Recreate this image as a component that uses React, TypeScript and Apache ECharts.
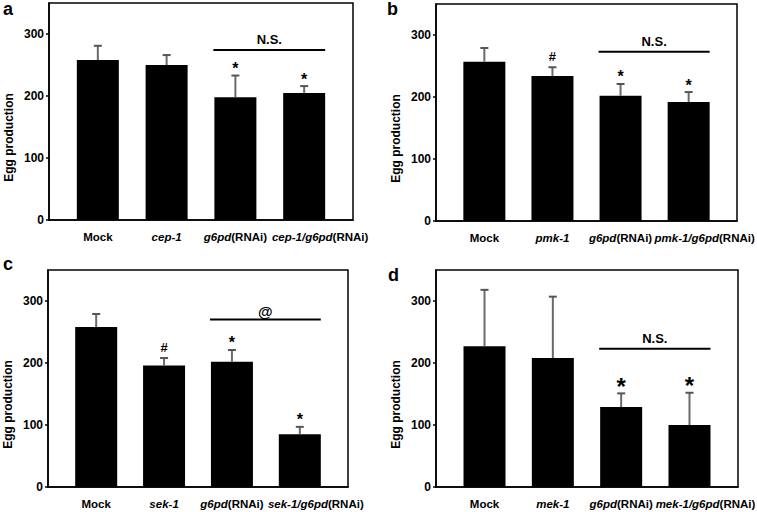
import React, { useEffect, useRef } from 'react';
import * as echarts from 'echarts';

// ---------- data ----------
const yTickValues = [0, 100, 200, 300];
const yAxisMax = 350;
const yAxisTitle = 'Egg production';

const panelLetters = ['a', 'b', 'c', 'd'];

const categoriesA = ['Mock', 'cep-1', 'g6pd(RNAi)', 'cep-1/g6pd(RNAi)'];
const meansA = [258, 250, 198, 205];
const errorsA = [23, 16, 35, 11];
const marksA = ['', '', '*', '*'];
const sigTextA = 'N.S.';
const sigLevelA = 274;

const categoriesB = ['Mock', 'pmk-1', 'g6pd(RNAi)', 'pmk-1/g6pd(RNAi)'];
const meansB = [257, 234, 202, 192];
const errorsB = [22, 14, 19, 16];
const marksB = ['', '#', '*', '*'];
const sigTextB = 'N.S.';
const sigLevelB = 273;

const categoriesC = ['Mock', 'sek-1', 'g6pd(RNAi)', 'sek-1/g6pd(RNAi)'];
const meansC = [258, 196, 202, 85];
const errorsC = [21, 12, 19, 12];
const marksC = ['', '#', '*', '*'];
const sigTextC = '@';
const sigLevelC = 270;

const categoriesD = ['Mock', 'mek-1', 'g6pd(RNAi)', 'mek-1/g6pd(RNAi)'];
const meansD = [227, 208, 129, 100];
const errorsD = [91, 99, 22, 52];
const marksD = ['', '', '*', '*'];
const sigTextD = 'N.S.';
const sigLevelD = 223;

// ---------- layout / style ----------
const FONT = '"Liberation Sans", Arial, Helvetica, sans-serif';
const BAR_W = 42;
const CAT_FS = 11.5;

const panels = [
  { cats: categoriesA, means: meansA, errs: errorsA, marks: marksA, sigText: sigTextA, sigLevel: sigLevelA,
    grid: { left: 49, top: 3, width: 304, height: 217 }, letter: { left: 3, top: 0 }, markSize: 16, markGap: 11, sigGap: 4, sigSize: 13 },
  { cats: categoriesB, means: meansB, errs: errorsB, marks: marksB, sigText: sigTextB, sigLevel: sigLevelB,
    grid: { left: 436, top: 4, width: 301, height: 217 }, letter: { left: 387, top: 0 }, markSize: 16, markGap: 11, sigGap: 4, sigSize: 13 },
  { cats: categoriesC, means: meansC, errs: errorsC, marks: marksC, sigText: sigTextC, sigLevel: sigLevelC,
    grid: { left: 48, top: 270, width: 300, height: 217 }, letter: { left: 3, top: 255 }, markSize: 16, markGap: 11, sigGap: 1, sigSize: 15 },
  { cats: categoriesD, means: meansD, errs: errorsD, marks: marksD, sigText: sigTextD, sigLevel: sigLevelD,
    grid: { left: 436, top: 270, width: 302, height: 217 }, letter: { left: 388, top: 266 }, markSize: 24, markGap: 13, sigGap: 4, sigSize: 13 },
];

function richLabel(s: string): string {
  if (s === 'Mock') return '{n|Mock}';
  const m = s.match(/^(.*?)(\(RNAi\))$/);
  if (m) return `{i|${m[1]}}{n|${m[2]}}`;
  return `{i|${s}}`;
}

function buildOption() {
  const grids: any[] = [];
  const xAxes: any[] = [];
  const yAxes: any[] = [];
  const series: any[] = [];
  const titles: any[] = [];

  const labelBase = { fontWeight: 'bold', fontSize: 12, fontFamily: FONT, color: '#000' };
  const richStyles = {
    i: { fontWeight: 'bold', fontSize: CAT_FS, fontFamily: FONT, fill: '#000', fontStyle: 'italic' },
    n: { fontWeight: 'bold', fontSize: CAT_FS, fontFamily: FONT, fill: '#000', fontStyle: 'normal' },
  };

  panels.forEach((p, k) => {
    grids.push({
      ...p.grid,
      show: true,
      borderColor: '#000',
      borderWidth: 1.5,
      backgroundColor: 'transparent',
      containLabel: false,
    });
    titles.push({
      text: panelLetters[k],
      left: p.letter.left,
      top: p.letter.top,
      padding: 0,
      textStyle: { fontSize: 18, fontWeight: 'bold', color: '#000', fontFamily: FONT },
    });
    xAxes.push({
      type: 'value',
      gridIndex: k,
      min: -0.71,
      max: 3.71,
      axisLine: { show: true, onZero: false, lineStyle: { color: '#000', width: 1.5 } },
      axisTick: { show: false },
      axisLabel: { show: false },
      splitLine: { show: false },
    });
    yAxes.push({
      type: 'value',
      gridIndex: k,
      min: 0,
      max: yAxisMax,
      axisLine: { show: true, onZero: false, lineStyle: { color: '#000', width: 1.5 } },
      axisTick: { show: true, inside: false, length: 3, customValues: yTickValues, lineStyle: { color: '#000', width: 1.5 } },
      splitLine: { show: false },
      axisLabel: {
        customValues: yTickValues,
        ...labelBase,
        margin: 5,
      },
      name: yAxisTitle,
      nameLocation: 'middle',
      nameRotate: 90,
      nameGap: 34,
      nameTextStyle: { ...labelBase, padding: [0, 52, 0, 0] },
    });

    // bars
    series.push({
      type: 'bar',
      xAxisIndex: k,
      yAxisIndex: k,
      barWidth: BAR_W,
      data: p.means.map((v, i) => [i, v]),
      itemStyle: { color: '#000' },
      z: 2,
    });
    // category labels under the x axis
    series.push({
      type: 'custom',
      xAxisIndex: k,
      yAxisIndex: k,
      z: 4,
      clip: false,
      silent: true,
      encode: { x: 0, y: 1 },
      data: p.cats.map((c, i) => [i, 0]),
      renderItem: (params: any, api: any) => {
        const idx = params.dataIndex;
        const pt = api.coord([api.value(0), api.value(1)]);
        const last = idx === p.cats.length - 1;
        return {
          type: 'text',
          x: pt[0] + (last ? 16 : 0),
          y: pt[1] + 11,
          style: {
            text: richLabel(p.cats[idx]),
            rich: richStyles,
            fontWeight: 'bold',
            fontSize: CAT_FS,
            fontFamily: FONT,
            fill: '#000',
            align: 'center',
            verticalAlign: 'top',
          },
        };
      },
    });
    // error bars
    series.push({
      type: 'custom',
      xAxisIndex: k,
      yAxisIndex: k,
      z: 3,
      encode: { x: 0, y: 1 },
      data: p.means.map((v, i) => [i, v, p.errs[i]]),
      renderItem: (params: any, api: any) => {
        const x = api.value(0);
        const m = api.value(1);
        const e = api.value(2);
        const p0 = api.coord([x, m]);
        const p1 = api.coord([x, m + e]);
        return {
          type: 'group',
          children: [
            { type: 'line', shape: { x1: p0[0], y1: p0[1], x2: p1[0], y2: p1[1] }, style: { stroke: '#6a6a6a', lineWidth: 2 } },
            { type: 'line', shape: { x1: p1[0] - 4, y1: p1[1], x2: p1[0] + 4, y2: p1[1] }, style: { stroke: '#555', lineWidth: 2 } },
          ],
        };
      },
    });
    // significance marks above bars
    series.push({
      type: 'custom',
      xAxisIndex: k,
      yAxisIndex: k,
      z: 4,
      encode: { x: 0, y: 1 },
      data: p.means.map((v, i) => [i, v + p.errs[i]]),
      renderItem: (params: any, api: any) => {
        const t = p.marks[params.dataIndex];
        if (!t) return null;
        const top = api.coord([api.value(0), api.value(1)]);
        const isStar = t === '*';
        const fs = isStar ? p.markSize : 13;
        const y = top[1] - p.markGap + (isStar ? 0.25 * fs : 0);
        return {
          type: 'text',
          x: top[0],
          y,
          style: { text: t, fontSize: fs, fontWeight: 'bold', fontFamily: FONT, fill: '#000', align: 'center', verticalAlign: 'middle' },
        };
      },
    });
    // comparison bracket line
    series.push({
      type: 'custom',
      xAxisIndex: k,
      yAxisIndex: k,
      z: 4,
      encode: { x: 0, y: 2 },
      data: [[2, 3, p.sigLevel]],
      renderItem: (params: any, api: any) => {
        const a = api.coord([api.value(0), api.value(2)]);
        const b = api.coord([api.value(1), api.value(2)]);
        const x1 = a[0] - BAR_W / 2 - 1;
        const x2 = b[0] + BAR_W / 2;
        return {
          type: 'group',
          children: [
            { type: 'line', shape: { x1, y1: a[1], x2, y2: a[1] }, style: { stroke: '#000', lineWidth: 2 } },
            {
              type: 'text',
              x: (x1 + x2) / 2,
              y: a[1] - p.sigGap,
              style: { text: p.sigText, fontSize: p.sigSize, fontWeight: 'bold', fontFamily: FONT, fill: '#000', align: 'center', verticalAlign: 'bottom' },
            },
          ],
        };
      },
    });
  });

  return {
    animation: false,
    backgroundColor: '#fff',
    title: titles,
    grid: grids,
    xAxis: xAxes,
    yAxis: yAxes,
    series,
  };
}

export default function App() {
  const ref = useRef<HTMLDivElement>(null);
  useEffect(() => {
    if (!ref.current) return;
    const chart = echarts.init(ref.current, undefined, { renderer: 'svg' });
    chart.setOption(buildOption() as any);
    return () => chart.dispose();
  }, []);
  return <div ref={ref} style={{ position: 'fixed', left: 0, top: 0, width: 757, height: 512 }} />;
}
